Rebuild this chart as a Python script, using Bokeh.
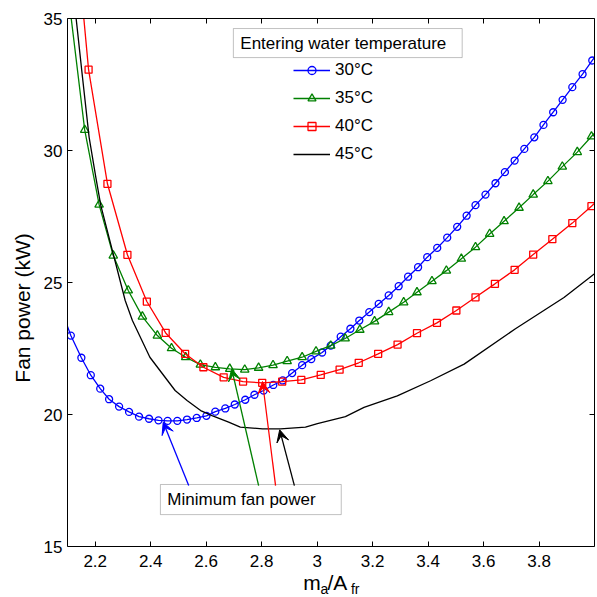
from bokeh.plotting import figure
from bokeh.models import (Range1d, LinearAxis, FixedTicker, Legend, LegendItem,
                          Label, BoxAnnotation, Arrow, VeeHead, CustomLabelingPolicy)
from bokeh.embed import file_html
from bokeh.resources import INLINE

# ---------------- data ----------------
x30 = [2.077, 2.112, 2.150, 2.184, 2.218, 2.250, 2.286, 2.322, 2.358, 2.394, 2.428, 2.461,
       2.496, 2.531, 2.566, 2.601, 2.633, 2.669, 2.703, 2.741, 2.774, 2.807, 2.842, 2.876,
       2.910, 2.946, 2.979, 3.018, 3.049, 3.085, 3.120, 3.152, 3.188, 3.222, 3.258, 3.294,
       3.328, 3.364, 3.397, 3.433, 3.469, 3.505, 3.539, 3.571, 3.607, 3.643, 3.677, 3.712,
       3.747, 3.783, 3.816, 3.851, 3.885, 3.920, 3.957, 3.992, 4.027]
y30 = [24.0, 22.99, 22.15, 21.49, 20.98, 20.58, 20.30, 20.10, 19.92, 19.84, 19.78, 19.76,
       19.76, 19.81, 19.87, 19.95, 20.11, 20.23, 20.38, 20.56, 20.75, 20.91, 21.12, 21.29,
       21.57, 21.87, 22.10, 22.35, 22.61, 22.95, 23.25, 23.56, 23.88, 24.19, 24.51, 24.86,
       25.22, 25.58, 25.96, 26.31, 26.70, 27.11, 27.53, 27.93, 28.33, 28.76, 29.18, 29.62,
       30.06, 30.50, 30.97, 31.45, 31.92, 32.40, 32.89, 33.41, 33.9]

x35 = [2.110, 2.162, 2.214, 2.265, 2.319, 2.370, 2.424, 2.475, 2.526, 2.579, 2.633, 2.685,
       2.739, 2.789, 2.841, 2.892, 2.946, 2.996, 3.049, 3.101, 3.154, 3.207, 3.258, 3.312,
       3.360, 3.414, 3.466, 3.520, 3.571, 3.622, 3.674, 3.728, 3.779, 3.832, 3.884, 3.938,
       3.989, 4.041]
y35 = [35.3, 30.78, 27.95, 26.02, 24.70, 23.71, 22.99, 22.51, 22.17, 21.89, 21.79, 21.73,
       21.70, 21.77, 21.87, 22.02, 22.17, 22.39, 22.61, 22.88, 23.21, 23.53, 23.88, 24.25,
       24.63, 25.05, 25.45, 25.90, 26.34, 26.84, 27.32, 27.83, 28.33, 28.84, 29.39, 29.94,
       30.53, 31.1]

x40 = [2.106, 2.176, 2.244, 2.316, 2.386, 2.454, 2.524, 2.590, 2.663, 2.733, 2.802, 2.874,
       2.943, 3.013, 3.081, 3.150, 3.220, 3.290, 3.360, 3.432, 3.502, 3.571, 3.641, 3.712,
       3.779, 3.848, 3.920, 3.989, 4.058]
y40 = [41.0, 33.06, 28.74, 26.05, 24.28, 23.09, 22.30, 21.79, 21.41, 21.25, 21.20, 21.25,
       21.31, 21.50, 21.70, 21.96, 22.30, 22.65, 23.08, 23.47, 23.94, 24.44, 24.95, 25.48,
       26.06, 26.64, 27.25, 27.89, 28.55]

x45 = [2.126, 2.154, 2.178, 2.202, 2.220, 2.274, 2.308, 2.334, 2.397, 2.488, 2.531, 2.580,
       2.621, 2.681, 2.723, 2.803, 2.868, 2.958, 3.001, 3.102, 3.169, 3.289, 3.409, 3.530,
       3.715, 3.890, 3.992, 4.030]
y45 = [35.5, 32.78, 30.50, 28.99, 27.92, 25.71, 24.32, 23.56, 22.17, 20.91, 20.53, 20.15,
       19.96, 19.71, 19.52, 19.46, 19.46, 19.52, 19.66, 19.92, 20.27, 20.71, 21.28, 21.91,
       23.25, 24.43, 25.27, 25.58]

series_labels = ["30\u00b0C", "35\u00b0C", "40\u00b0C", "45\u00b0C"]
series_colors = ["#0000ff", "#008000", "#ff0000", "#000000"]

# minimum-power arrows (tip = minimum point of each curve, tail = annotation box)
arrow_tip_x = [2.445, 2.692, 2.803, 2.865]
arrow_tip_y = [19.71, 21.73, 21.25, 19.42]
arrow_tail_x = [2.537, 2.789, 2.850, 2.918]
arrow_tail_y = [17.31, 17.31, 17.31, 17.31]

x_ticks = [2.2, 2.4, 2.6, 2.8, 3.0, 3.2, 3.4, 3.6, 3.8]
x_tick_labels = ["2.2", "2.4", "2.6", "2.8", "3", "3.2", "3.4", "3.6", "3.8"]
y_ticks = [15, 20, 25, 30, 35]
x_min, x_max = 2.1, 4.0
y_min, y_max = 15, 35

legend_title = "Entering water temperature"
note_text = "Minimum fan power"
y_label = "Fan power (kW)"

FONT = "Liberation Sans"

# frame extends below y=15 so the x-axis title can sit inside it; the x axis is
# pinned at y=15 with fixed_location.
y_view_min = 13.07

p = figure(frame_width=527, frame_height=579,
           x_range=Range1d(x_min, x_max), y_range=Range1d(y_view_min, y_max),
           output_backend="svg", toolbar_location=None,
           min_border_left=67, min_border_right=3, min_border_top=18, min_border_bottom=0)
p.background_fill_color = "white"
p.border_fill_color = "white"
p.outline_line_color = None
p.xgrid.visible = False
p.ygrid.visible = False

xa = p.xaxis[0]
xa.ticker = FixedTicker(ticks=x_ticks)
xa.major_label_overrides = {t: l for t, l in zip(x_ticks, x_tick_labels)}
xa.fixed_location = y_min
ya = p.yaxis[0]
ya.ticker = FixedTicker(ticks=y_ticks)
ya.bounds = (y_min, y_max)
for ax in (xa, ya):
    ax.major_tick_in = 5
    ax.major_tick_out = 0
    ax.minor_tick_in = 0
    ax.minor_tick_out = 0
    ax.axis_line_color = "black"
    ax.major_tick_line_color = "black"
    ax.major_label_text_font = FONT
    ax.major_label_text_font_size = "17px"
    ax.major_label_text_color = "black"
xa.major_label_standoff = 8
ya.major_label_standoff = 5
ya.axis_label = y_label
ya.axis_label_text_font = FONT
ya.axis_label_text_font_size = "21px"
ya.axis_label_text_font_style = "normal"
ya.axis_label_text_color = "black"
ya.axis_label_standoff = 7

# mirrored ticks on top and right (no labels)
no_labels = CustomLabelingPolicy(code="for (const i of indices) { indices.unset(i) } return indices")
top_ax = LinearAxis(ticker=FixedTicker(ticks=x_ticks), major_label_policy=no_labels)
right_ax = LinearAxis(ticker=FixedTicker(ticks=y_ticks), major_label_policy=no_labels,
                      bounds=(y_min, y_max))
for ax in (top_ax, right_ax):
    ax.major_tick_in = 5
    ax.major_tick_out = 0
    ax.minor_tick_in = 0
    ax.minor_tick_out = 0
    ax.major_label_standoff = 0
    ax.axis_line_color = "black"
    ax.major_tick_line_color = "black"
p.add_layout(top_ax, "above")
p.add_layout(right_ax, "right")

# ---------------- curves ----------------
lw = 1.3
r30l = p.line(x30, y30, line_color=series_colors[0], line_width=lw)
r30m = p.scatter(x30, y30, marker="circle", size=7, line_color=series_colors[0],
                 fill_color=None, line_width=lw)
r35l = p.line(x35, y35, line_color=series_colors[1], line_width=lw)
r35m = p.scatter(x35, y35, marker="triangle", size=8.5, line_color=series_colors[1],
                 fill_color=None, line_width=lw)
r40l = p.line(x40, y40, line_color=series_colors[2], line_width=lw)
r40m = p.scatter(x40, y40, marker="square", size=7, line_color=series_colors[2],
                 fill_color=None, line_width=lw)
r45l = p.line(x45, y45, line_color=series_colors[3], line_width=lw)

legend = Legend(items=[LegendItem(label=series_labels[0], renderers=[r30l, r30m]),
                       LegendItem(label=series_labels[1], renderers=[r35l, r35m]),
                       LegendItem(label=series_labels[2], renderers=[r40l, r40m]),
                       LegendItem(label=series_labels[3], renderers=[r45l])],
                location=(226, 433), orientation="vertical",
                glyph_width=37, glyph_height=20, label_height=20, spacing=8,
                padding=0, margin=0, label_standoff=5,
                border_line_color=None, background_fill_alpha=0,
                label_text_font=FONT, label_text_font_size="17px", label_text_color="black")
p.add_layout(legend)

# legend title box
p.add_layout(BoxAnnotation(left=2.698, right=3.523, bottom=33.52, top=34.62,
                           fill_color="white", fill_alpha=1.0,
                           line_color="#333333", line_width=1))
p.add_layout(Label(x=2.723, y=34.07, text=legend_title, text_font=FONT,
                   text_font_size="17px", text_baseline="middle", text_align="left",
                   text_color="black"))

# annotation box + arrows
p.add_layout(BoxAnnotation(left=2.435, right=3.087, bottom=16.21, top=17.35,
                           fill_color="white", fill_alpha=1.0,
                           line_color="#333333", line_width=1))
p.add_layout(Label(x=2.460, y=16.78, text=note_text, text_font=FONT,
                   text_font_size="17px", text_baseline="middle", text_align="left",
                   text_color="black"))
for tx, ty, sx, sy, c in zip(arrow_tip_x, arrow_tip_y, arrow_tail_x, arrow_tail_y, series_colors):
    p.add_layout(Arrow(end=VeeHead(size=12, fill_color=c, line_color=c, line_width=1),
                       x_start=sx, y_start=sy, x_end=tx, y_end=ty,
                       line_color=c, line_width=lw))

# x-axis title  m_a / A_fr  (main text + subscripts)
p.add_layout(Label(x=2.950, y=13.64, text="m", text_font=FONT, text_font_size="21px",
                   text_baseline="alphabetic", text_align="left", text_color="black"))
p.add_layout(Label(x=3.012, y=13.41, text="a", text_font=FONT, text_font_size="14px",
                   text_baseline="alphabetic", text_align="left", text_color="black"))
p.add_layout(Label(x=3.037, y=13.64, text="/A", text_font=FONT, text_font_size="21px",
                   text_baseline="alphabetic", text_align="left", text_color="black"))
p.add_layout(Label(x=3.122, y=13.41, text="fr", text_font=FONT, text_font_size="14px",
                   text_baseline="alphabetic", text_align="left", text_color="black"))

open("out.html", "w").write(file_html(p, INLINE))
